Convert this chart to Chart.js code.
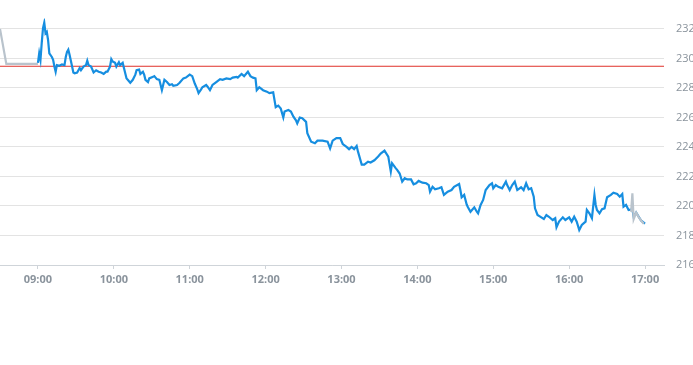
<!DOCTYPE html>
<html>
<head>
<meta charset="utf-8">
<script src="https://cdn.jsdelivr.net/npm/chart.js@4.4.0/dist/chart.umd.min.js"></script>
<style>
  body { margin: 0; background: #fff; }
</style>
</head>
<body>
<canvas id="grafico" width="693" height="365"></canvas>
<script>
// pre-market (grey)
const preTimes = ['08:30', '08:35', '09:00'];
const prePrices = [232.0, 229.63, 229.63];

// regular session (blue)
const sessionTimes = [
  '09:00','09:01','09:02','09:03','09:04','09:05','09:06','09:07','09:08','09:09',
  '09:11','09:12','09:13','09:14','09:15','09:17','09:19','09:21','09:22','09:23',
  '09:24','09:25','09:27','09:28','09:29','09:31','09:33','09:34','09:36','09:38',
  '09:39','09:40','09:42','09:44','09:46','09:48','09:50','09:52','09:54','09:55',
  '09:57','09:58','09:59','10:01','10:02','10:04','10:05','10:07','10:08','10:10',
  '10:11','10:13','10:15','10:17','10:18','10:20','10:21','10:23','10:24','10:25',
  '10:27','10:28','10:31','10:32','10:34','10:36','10:38','10:39','10:40','10:42',
  '10:44','10:46','10:47','10:50','10:52','10:55','10:57','11:00','11:02','11:04',
  '11:06','11:07','11:09','11:10','11:13','11:14','11:16','11:18','11:21','11:24',
  '11:26','11:29','11:32','11:34','11:37','11:38','11:41','11:43','11:46','11:48',
  '11:50','11:52','11:53','11:55','11:58','12:01','12:03','12:06','12:08','12:10',
  '12:12','12:14','12:15','12:18','12:20','12:22','12:24','12:25','12:27','12:29',
  '12:32','12:33','12:36','12:39','12:41','12:45','12:49','12:51','12:53','12:56',
  '12:59','13:01','13:04','13:06','13:08','13:10','13:12','13:13','13:16','13:18',
  '13:21','13:23','13:26','13:29','13:31','13:34','13:37','13:39','13:40','13:43',
  '13:44','13:46','13:48','13:50','13:52','13:55','13:57','13:59','14:01','14:04',
  '14:07','14:09','14:10','14:12','14:14','14:17','14:19','14:21','14:24','14:27',
  '14:29','14:33','14:34','14:35','14:37','14:39','14:40','14:42','14:45','14:47',
  '14:48','14:50','14:52','14:54','14:57','14:59','15:00','15:02','15:04','15:07',
  '15:10','15:11','15:13','15:15','15:17','15:19','15:22','15:24','15:26','15:28',
  '15:30','15:32','15:33','15:35','15:38','15:40','15:42','15:44','15:47','15:49',
  '15:50','15:52','15:55','15:57','16:00','16:02','16:04','16:06','16:08','16:10',
  '16:13','16:14','16:16','16:18','16:20','16:21','16:22','16:24','16:26','16:28',
  '16:30','16:33','16:35','16:38','16:40','16:42','16:43','16:45','16:47','16:50',
  '16:51','16:53','16:55','16:57','17:00'
];
const sessionPrices = [
  229.7,230.35,229.9,231.05,232.05,232.43,231.7,231.8,231.25,230.35,
  230.1,229.9,229.45,229.1,229.55,229.5,229.6,229.55,230.1,230.45,
  230.6,230.25,229.45,229.05,229.0,229.05,229.35,229.2,229.45,229.55,
  229.85,229.55,229.45,229.05,229.2,229.1,229.05,228.95,229.1,229.1,
  229.45,229.95,229.8,229.7,229.45,229.75,229.55,229.7,229.35,228.65,
  228.55,228.35,228.55,228.9,229.2,229.25,228.95,229.1,228.9,228.55,
  228.4,228.65,228.75,228.8,228.6,228.55,227.85,228.2,228.55,228.4,
  228.2,228.25,228.15,228.2,228.35,228.65,228.7,228.9,228.8,228.3,
  227.9,227.65,227.9,228.05,228.2,228.1,227.85,228.2,228.4,228.6,
  228.55,228.65,228.6,228.7,228.75,228.7,228.95,228.8,229.1,228.8,
  228.7,228.65,227.85,228.05,227.85,227.75,227.65,227.7,226.7,226.8,
  226.6,226.0,226.4,226.5,226.4,226.05,225.8,225.6,226.0,225.95,
  225.7,224.93,224.36,224.25,224.43,224.43,224.36,223.9,224.43,224.6,
  224.6,224.2,224.0,223.85,224.0,223.85,224.07,223.7,222.8,222.8,
  223.0,222.95,223.1,223.35,223.55,223.75,223.35,222.33,222.9,222.55,
  222.45,222.2,221.65,221.88,221.8,221.8,221.47,221.54,221.7,221.58,
  221.54,221.42,220.97,221.3,221.13,221.2,221.27,220.75,220.97,221.08,
  221.3,221.49,221.08,220.59,220.75,220.1,219.91,219.61,219.91,219.61,
  219.5,220.07,220.41,221.08,221.42,221.54,221.2,221.42,221.3,221.2,
  221.65,221.42,221.08,221.42,221.65,221.08,221.27,221.08,221.54,221.13,
  221.2,220.63,219.84,219.39,219.23,219.12,219.39,219.27,219.05,219.17,
  218.56,218.94,219.23,219.05,219.23,218.94,219.27,218.94,218.37,218.71,
  218.94,219.73,219.5,219.17,220.75,220.07,219.73,219.5,219.78,219.84,
  220.59,220.75,220.9,220.81,220.63,220.81,219.95,220.07,219.73,219.78,
  219.27,219.55,219.27,219.0,218.8
];

// after-hours (grey)
const postTimes = ['16:49', '16:50', '16:51', '16:53', '16:55', '16:57', '16:59'];
const postPrices = [219.6, 220.86, 219.1, 219.55, 219.25, 219.0, 218.8];

const previousClose = 229.47;
const yTicks = [216, 218, 220, 222, 224, 226, 228, 230, 232];
const xTickLabels = ['09:00', '10:00', '11:00', '12:00', '13:00', '14:00', '15:00', '16:00', '17:00'];

const axisStart = '08:30';
const axisEnd = '17:15';

function aMinutos(t) {
  const [h, m] = t.split(':').map(Number);
  return h * 60 + m;
}

function aHora(v) {
  const h = Math.floor(v / 60);
  const m = v % 60;
  return String(h).padStart(2, '0') + ':' + String(m).padStart(2, '0');
}

function puntos(times, prices) {
  return times.map((t, i) => ({ x: aMinutos(t), y: prices[i] }));
}

const grisTexto = '#8a939c';
const fuente = { family: '"Open Sans", sans-serif', size: 11, weight: 'bold' };

const ctx = document.getElementById('grafico').getContext('2d');
new Chart(ctx, {
  type: 'line',
  data: {
    datasets: [
      {
        data: puntos(postTimes, postPrices),
        borderColor: '#b9c3cc',
        borderWidth: 2.2,
        pointRadius: 0,
        order: 0
      },
      {
        data: puntos(sessionTimes, sessionPrices),
        borderColor: '#168ee0',
        borderWidth: 2.2,
        pointRadius: 0,
        order: 1
      },
      {
        data: puntos(preTimes, prePrices),
        borderColor: '#b9c3cc',
        borderWidth: 2.2,
        pointRadius: 0,
        order: 2
      },
      {
        data: [
          { x: aMinutos(axisStart), y: previousClose },
          { x: aMinutos(axisEnd), y: previousClose }
        ],
        borderColor: '#e0302a',
        borderWidth: 1,
        pointRadius: 0,
        order: 3
      }
    ]
  },
  options: {
    responsive: false,
    animation: false,
    layout: { padding: { top: 10, left: 0, right: 0, bottom: 0 } },
    plugins: {
      legend: { display: false },
      tooltip: { enabled: false }
    },
    scales: {
      x: {
        type: 'linear',
        min: aMinutos(axisStart),
        max: aMinutos(axisEnd),
        afterBuildTicks: axis => {
          const wanted = xTickLabels.map(aMinutos);
          axis.ticks = wanted.map(v => ({ value: v }));
        },
        afterFit: axis => { axis.height = 100; },
        grid: {
          drawOnChartArea: false,
          drawTicks: true,
          tickLength: 4,
          color: '#cfd4d9'
        },
        border: { display: true, color: '#cfd4d9' },
        ticks: {
          color: grisTexto,
          font: fuente,
          padding: 4,
          maxRotation: 0,
          autoSkip: false,
          callback: v => aHora(v)
        }
      },
      y: {
        position: 'right',
        min: 216,
        max: 232.7,
        afterBuildTicks: axis => {
          axis.ticks = yTicks.map(v => ({ value: v }));
        },
        afterFit: axis => { axis.width = 29; },
        grid: {
          drawTicks: false,
          color: '#e3e3e3'
        },
        border: { display: false },
        ticks: {
          color: grisTexto,
          font: { family: '"Open Sans", sans-serif', size: 11 },
          padding: 12
        }
      }
    }
  }
});
</script>
</body>
</html>
